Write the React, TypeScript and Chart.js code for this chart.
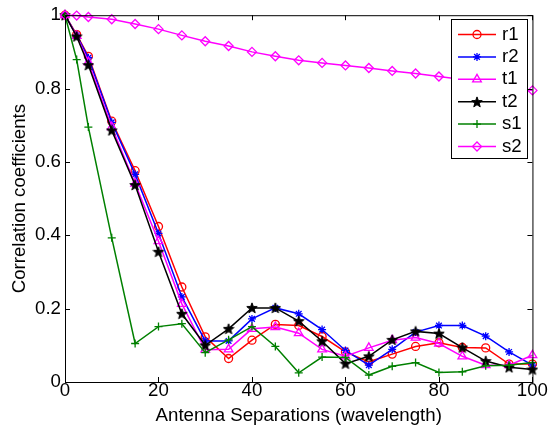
import React, { useEffect, useRef } from 'react';
import { Chart, registerables } from 'chart.js';

Chart.register(...registerables);

const separations = [0, 2.5, 5, 10, 15, 20, 25, 30, 35, 40, 45, 50, 55, 60, 65, 70, 75, 80, 85, 90, 95, 100];
const r1 = [1, 0.947, 0.888, 0.711, 0.576, 0.424, 0.259, 0.123, 0.064, 0.114, 0.157, 0.154, 0.124, 0.082, 0.055, 0.076, 0.097, 0.107, 0.094, 0.093, 0.049, 0.049];
const r2 = [1, 0.945, 0.884, 0.708, 0.566, 0.405, 0.232, 0.112, 0.112, 0.172, 0.202, 0.186, 0.143, 0.086, 0.046, 0.089, 0.136, 0.154, 0.154, 0.125, 0.082, 0.046];
const t1 = [1, 0.944, 0.872, 0.695, 0.541, 0.384, 0.213, 0.088, 0.089, 0.145, 0.150, 0.133, 0.089, 0.070, 0.093, 0.114, 0.121, 0.105, 0.070, 0.046, 0.046, 0.073];
const t2 = [1, 0.942, 0.864, 0.686, 0.537, 0.355, 0.186, 0.100, 0.145, 0.202, 0.202, 0.166, 0.111, 0.050, 0.070, 0.115, 0.138, 0.132, 0.094, 0.057, 0.040, 0.034];
const s1 = [1, 0.879, 0.695, 0.393, 0.105, 0.151, 0.159, 0.080, 0.115, 0.151, 0.097, 0.025, 0.068, 0.067, 0.019, 0.043, 0.053, 0.026, 0.028, 0.044, 0.046, 0.053];
const s2 = [1, 0.999, 0.995, 0.989, 0.976, 0.962, 0.945, 0.929, 0.916, 0.900, 0.888, 0.877, 0.870, 0.863, 0.856, 0.848, 0.841, 0.833, 0.825, 0.815, 0.805, 0.795];

const seriesNames = ['r1', 'r2', 't1', 't2', 's1', 's2'];
const seriesValues = [r1, r2, t1, t2, s1, s2];
const xTitle = 'Antenna Separations (wavelength)';
const yTitle = 'Correlation coefficients';

const colors = ['#ff0000', '#0000ff', '#ff00ff', '#000000', '#008000', '#ff00ff'];
const markers = ['circle', 'star', 'triangle', 'pentagram', 'cross', 'rectRot'];
const radii = [4, 4, 5, 6, 4, 4.5];

const FONT = '"Liberation Sans", Arial, Helvetica, sans-serif';
const FS = 18.67;

function makePentagram(size: number, color: string): HTMLCanvasElement {
  const c = document.createElement('canvas');
  c.width = size;
  c.height = size;
  const ctx = c.getContext('2d')!;
  const cx = size / 2, cy = size / 2 + 0.4;
  const R = size / 2 - 0.5;
  const r = R * 0.42;
  ctx.beginPath();
  for (let i = 0; i < 10; i++) {
    const a = -Math.PI / 2 + (i * Math.PI) / 5;
    const rr = i % 2 === 0 ? R : r;
    ctx.lineTo(cx + rr * Math.cos(a), cy + rr * Math.sin(a));
  }
  ctx.closePath();
  ctx.fillStyle = color;
  ctx.fill();
  ctx.strokeStyle = color;
  ctx.lineWidth = 1;
  ctx.stroke();
  return c;
}

function drawMarker(ctx: CanvasRenderingContext2D, kind: string, x: number, y: number, r: number, color: string, star: HTMLCanvasElement) {
  ctx.save();
  ctx.strokeStyle = color;
  ctx.lineWidth = 1.3;
  ctx.beginPath();
  if (kind === 'circle') {
    ctx.arc(x, y, r, 0, Math.PI * 2);
    ctx.stroke();
  } else if (kind === 'star') {
    const d = r * Math.SQRT1_2;
    ctx.moveTo(x - r, y); ctx.lineTo(x + r, y);
    ctx.moveTo(x, y - r); ctx.lineTo(x, y + r);
    ctx.moveTo(x - d, y - d); ctx.lineTo(x + d, y + d);
    ctx.moveTo(x - d, y + d); ctx.lineTo(x + d, y - d);
    ctx.stroke();
  } else if (kind === 'triangle') {
    let a = 0;
    ctx.moveTo(x + Math.sin(a) * r, y - Math.cos(a) * r);
    a += (2 * Math.PI) / 3;
    ctx.lineTo(x + Math.sin(a) * r, y - Math.cos(a) * r);
    a += (2 * Math.PI) / 3;
    ctx.lineTo(x + Math.sin(a) * r, y - Math.cos(a) * r);
    ctx.closePath();
    ctx.stroke();
  } else if (kind === 'cross') {
    ctx.moveTo(x - r, y); ctx.lineTo(x + r, y);
    ctx.moveTo(x, y - r); ctx.lineTo(x, y + r);
    ctx.stroke();
  } else if (kind === 'rectRot') {
    ctx.moveTo(x - r, y); ctx.lineTo(x, y - r); ctx.lineTo(x + r, y); ctx.lineTo(x, y + r);
    ctx.closePath();
    ctx.stroke();
  } else if (kind === 'pentagram') {
    ctx.drawImage(star, Math.round(x - star.width / 2), Math.round(y - star.height / 2));
  }
  ctx.restore();
}

export default function App() {
  const ref = useRef<HTMLCanvasElement | null>(null);

  useEffect(() => {
    const canvas = ref.current;
    if (!canvas) return;
    const star = makePentagram(12, '#000000');

    const datasets = seriesNames.map((name, i) => ({
      label: name,
      data: separations.map((x, j) => ({ x, y: seriesValues[i][j] })),
      borderColor: colors[i],
      borderWidth: 1.5,
      backgroundColor: colors[i],
      pointStyle: markers[i] === 'pentagram' ? star : markers[i],
      pointRadius: radii[i],
      pointBorderWidth: 1.3,
      pointBorderColor: colors[i],
      pointBackgroundColor: 'rgba(0,0,0,0)',
      pointHoverRadius: radii[i],
      tension: 0,
      fill: false,
      clip: false as any,
      order: seriesNames.length - i,
    }));

    const framePlugin = {
      id: 'frameAndLegend',
      afterDraw(chart: any) {
        const ctx: CanvasRenderingContext2D = chart.ctx;
        const { left, right, top, bottom } = chart.chartArea;
        const xs = chart.scales.x;
        const ys = chart.scales.y;
        ctx.save();
        ctx.strokeStyle = '#000000';
        ctx.lineWidth = 1;
        ctx.strokeRect(left + 0.5, top + 0.5, right - left, bottom - top);
        ctx.beginPath();
        const tl = 5;
        xs.ticks.forEach((t: any) => {
          const px = Math.round(xs.getPixelForValue(t.value)) + 0.5;
          ctx.moveTo(px, bottom); ctx.lineTo(px, bottom - tl);
          ctx.moveTo(px, top); ctx.lineTo(px, top + tl);
        });
        ys.ticks.forEach((t: any) => {
          const py = Math.round(ys.getPixelForValue(t.value)) + 0.5;
          ctx.moveTo(left, py); ctx.lineTo(left + tl, py);
          ctx.moveTo(right, py); ctx.lineTo(right - tl, py);
        });
        ctx.stroke();

        // legend
        const bx = 451, by = 19, bw = 76, bh = 139;
        ctx.fillStyle = '#ffffff';
        ctx.fillRect(bx, by, bw, bh);
        ctx.strokeStyle = '#000000';
        ctx.lineWidth = 1;
        ctx.strokeRect(bx + 0.5, by + 0.5, bw, bh);
        ctx.font = `${FS}px ${FONT}`;
        ctx.textBaseline = 'middle';
        ctx.textAlign = 'left';
        seriesNames.forEach((name, i) => {
          const y = 34.5 + i * 22.4;
          ctx.strokeStyle = colors[i];
          ctx.lineWidth = 1.5;
          ctx.beginPath();
          ctx.moveTo(458, y);
          ctx.lineTo(496, y);
          ctx.stroke();
          drawMarker(ctx, markers[i], 477, y, radii[i], colors[i], star);
          ctx.fillStyle = '#000000';
          ctx.fillText(name, 502, y);
        });
        ctx.restore();
      },
    };

    const chart = new Chart(canvas, {
      type: 'line',
      data: { datasets: datasets as any },
      options: {
        animation: false,
        responsive: false,
        devicePixelRatio: 1,
        layout: { padding: { top: 13, right: 15, left: 0, bottom: 0 } },
        plugins: { legend: { display: false }, tooltip: { enabled: false } },
        scales: {
          x: {
            type: 'linear',
            min: 0,
            max: 100,
            afterFit: (s: any) => { s.height = 48; },
            grid: { display: false, drawTicks: false },
            border: { display: false },
            ticks: {
              stepSize: 20,
              padding: 0,
              color: '#000000',
              font: { family: FONT, size: FS, lineHeight: 1 },
              maxRotation: 0,
              callback: (v: any) => String(Math.round(Number(v))),
            },
            title: {
              display: true,
              text: xTitle,
              color: '#000000',
              font: { family: FONT, size: FS },
              padding: { top: 0, bottom: 3 },
            },
          },
          y: {
            type: 'linear',
            min: 0,
            max: 1,
            afterFit: (s: any) => { s.width = 65; },
            grid: { display: false, drawTicks: false },
            border: { display: false },
            ticks: {
              stepSize: 0.2,
              padding: 4,
              color: '#000000',
              font: { family: FONT, size: FS },
              callback: (v: any) => String(Number(Number(v).toFixed(1))),
            },
            title: {
              display: true,
              text: yTitle,
              color: '#000000',
              font: { family: FONT, size: FS },
              padding: { top: 9, bottom: 0 },
            },
          },
        },
      },
      plugins: [framePlugin],
    });

    return () => chart.destroy();
  }, []);

  return (
    <div style={{ position: 'fixed', left: 0, top: 0, width: 548, height: 430, background: '#ffffff' }}>
      <canvas ref={ref} width={548} height={430} style={{ display: 'block', width: 548, height: 430 }} />
    </div>
  );
}
